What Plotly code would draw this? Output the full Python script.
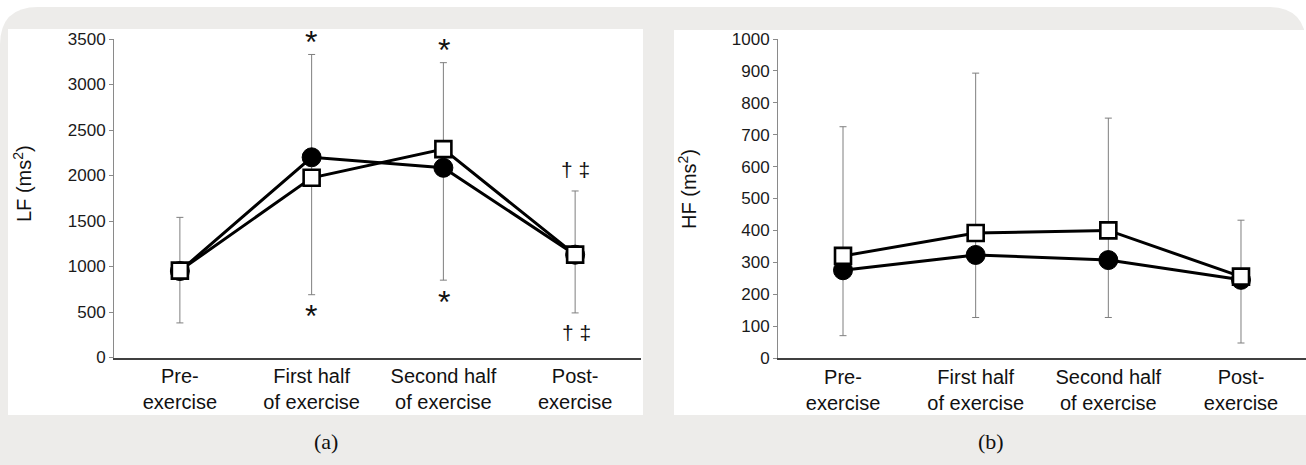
import plotly.graph_objects as go

# ---------------- data ----------------
categories = ["Pre-<br>exercise", "First half<br>of exercise", "Second half<br>of exercise", "Post-<br>exercise"]

lf_circle = [950, 2200, 2085, 1130]
lf_square = [955, 1975, 2290, 1130]
lf_err_top = [1540, 3330, 3240, 1830]
lf_err_bottom = [380, 690, 850, 490]

hf_circle = [275, 323, 307, 245]
hf_square = [320, 392, 400, 255]
hf_err_top = [725, 893, 752, 432]
hf_err_bottom = [70, 127, 127, 47]

lf_ticks = [0, 500, 1000, 1500, 2000, 2500, 3000, 3500]
hf_ticks = [0, 100, 200, 300, 400, 500, 600, 700, 800, 900, 1000]

# ---------------- layout helpers ----------------
W, H = 1306, 465
def fx(p):
    return p / W
def fy(p):
    return 1 - p / H

GRAY = "#edecea"
xs = list(range(len(categories)))

fig = go.Figure()

def add_panel(xref, yref, circ, sq, top, bot):
    fig.add_trace(go.Scatter(
        x=xs, y=sq, mode="markers", xaxis=xref, yaxis=yref,
        marker=dict(size=1, color="rgba(0,0,0,0)"),
        error_y=dict(type="data", symmetric=False,
                     array=[t - s for t, s in zip(top, sq)],
                     arrayminus=[s - b for s, b in zip(sq, bot)],
                     color="#7f7f7f", thickness=1, width=3.5),
        showlegend=False, hoverinfo="skip"))
    fig.add_trace(go.Scatter(
        x=xs, y=circ, mode="lines+markers", xaxis=xref, yaxis=yref,
        line=dict(color="black", width=3),
        marker=dict(symbol="circle", size=19, color="black",
                    line=dict(color="black", width=1)),
        showlegend=False))
    fig.add_trace(go.Scatter(
        x=xs, y=sq, mode="lines+markers", xaxis=xref, yaxis=yref,
        line=dict(color="black", width=3),
        marker=dict(symbol="square", size=16, color="white",
                    line=dict(color="black", width=2.6)),
        showlegend=False))

add_panel("x", "y", lf_circle, lf_square, lf_err_top, lf_err_bottom)
add_panel("x2", "y2", hf_circle, hf_square, hf_err_top, hf_err_bottom)

xcommon = dict(tickmode="array", tickvals=xs, ticktext=categories,
               showline=True, linecolor="#404040", linewidth=1.6,
               ticks="", showgrid=False, zeroline=False, automargin=False,
               tickfont=dict(family="Liberation Sans, Arial", size=20, color="#111111"))
ycommon = dict(showline=True, linecolor="#8a8a8a", linewidth=1,
               ticks="outside", ticklen=4, tickcolor="#8a8a8a", tickwidth=1,
               showgrid=False, zeroline=False, automargin=False,
               tickfont=dict(family="Liberation Sans, Arial", size=17, color="#1a1a1a"))

shapes = []
r = 38
top = 7
path = (f"M {fx(0)},{fy(H)} L {fx(0)},{fy(top + r)} Q {fx(0)},{fy(top)} {fx(r)},{fy(top)} "
        f"L {fx(W - r)},{fy(top)} Q {fx(W)},{fy(top)} {fx(W)},{fy(top + r)} L {fx(W)},{fy(H)} Z")
shapes.append(dict(type="path", xref="paper", yref="paper", path=path,
                   fillcolor=GRAY, line=dict(width=0), layer="below"))
shapes.append(dict(type="rect", xref="paper", yref="paper",
                   x0=fx(8), x1=fx(643), y0=fy(415), y1=fy(29),
                   fillcolor="white", line=dict(width=0), layer="below"))
shapes.append(dict(type="rect", xref="paper", yref="paper",
                   x0=fx(674), x1=fx(W), y0=fy(415), y1=fy(30),
                   fillcolor="white", line=dict(width=0), layer="below"))

ann = []
def txt(x, y, t, size, family="Liberation Sans, Arial", angle=0):
    ann.append(dict(x=fx(x), y=fy(y), xref="paper", yref="paper", text=t,
                    showarrow=False, xanchor="center", yanchor="middle",
                    textangle=angle,
                    font=dict(family=family, size=size, color="#111111")))

txt(22, 184, "LF (ms<sup>2</sup>)", 20, angle=-90)
txt(687, 189, "HF (ms<sup>2</sup>)", 20, angle=-90)
# significance marks
txt(311, 42, "*", 32)
txt(311, 316, "*", 32)
txt(444, 50, "*", 32)
txt(444, 302, "*", 32)
txt(575, 169, "† ‡", 21)
txt(576, 332, "† ‡", 21)
# captions
txt(326, 441, "(a)", 22, family="Liberation Serif, serif")
txt(991, 441, "(b)", 22, family="Liberation Serif, serif")

fig.update_layout(
    width=W, height=H, autosize=False,
    margin=dict(l=0, r=0, t=0, b=0, pad=0),
    paper_bgcolor="white",
    plot_bgcolor="rgba(0,0,0,0)",
    xaxis=dict(domain=[fx(114), fx(641)], range=[-0.5, 3.5], anchor="y", **xcommon),
    yaxis=dict(domain=[fy(357.5), fy(39)], range=[0, 3500], tickvals=lf_ticks, anchor="x", **ycommon),
    xaxis2=dict(domain=[fx(778), 1.0], range=[-0.49, 3.49], anchor="y2", **xcommon),
    yaxis2=dict(domain=[fy(358), fy(39)], range=[0, 1000], tickvals=hf_ticks, anchor="x2", **ycommon),
    shapes=shapes,
    annotations=ann,
)

js = ("var de=document.documentElement.style;de.margin='0';de.padding='0';de.overflow='hidden';"
      "var bs=document.body.style;bs.margin='0';bs.padding='0';bs.overflow='hidden';")
fig.write_html("out.html", config={"displayModeBar": False}, post_script=js)
